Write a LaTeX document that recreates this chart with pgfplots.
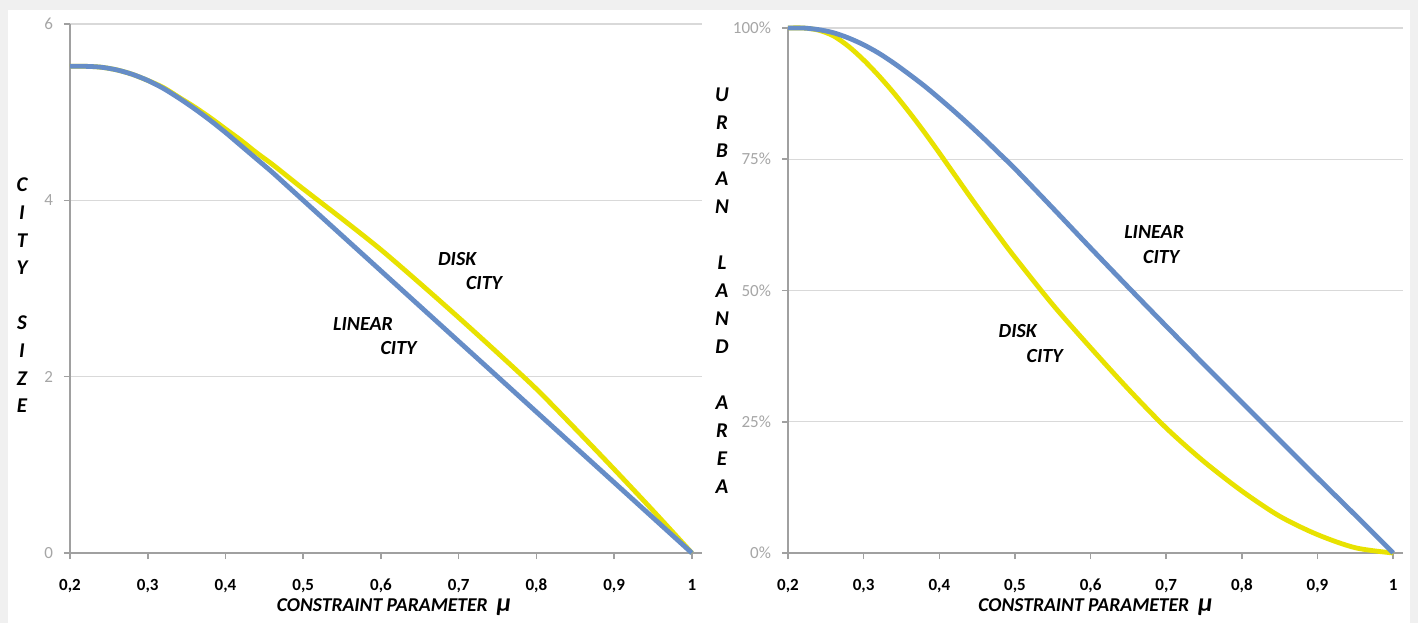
\documentclass[border=0pt]{standalone}
\usepackage{fontspec}
\setmainfont{Carlito}
\usepackage{pgfplots}
\pgfplotsset{compat=1.18}
\definecolor{lin}{RGB}{102,141,199}
\definecolor{disk}{RGB}{232,226,0}
\definecolor{gridc}{RGB}{217,217,217}
\definecolor{axc}{RGB}{160,160,160}
\definecolor{tickc}{RGB}{166,166,166}
\pgfplotsset{
 mystyle/.style={
  scale only axis,
  axis x line*=bottom, axis y line*=left,
  axis line style={-, axc, line width=0.8pt},
  major tick style={axc, line width=0.8pt},
  major tick length=3pt,
  tick align=outside,
  ymajorgrids, grid style={gridc, line width=0.6pt},
  xmin=0.2, xmax=1.013,
  xtick={0.2,0.3,0.4,0.5,0.6,0.7,0.8,0.9,1},
  xticklabels={{0,2},{0,3},{0,4},{0,5},{0,6},{0,7},{0,8},{0,9},1},
  xticklabel style={font=\fontsize{8.5}{10}\selectfont\bfseries, text=black, yshift=-6.5pt},
  yticklabel style={font=\fontsize{8.5}{10}\selectfont, text=tickc, xshift=-2pt},
  xlabel={CONSTRAINT PARAMETER\ \ {\fontsize{13}{13}\selectfont μ}},
  xlabel style={font=\fontsize{9.8}{12}\selectfont\bfseries\itshape, at={(axis description cs:0.5,0)}, anchor=center, yshift=-27pt},
  clip=false,
 },
}
\tikzset{ann/.style={anchor=west, inner sep=0pt, font=\fontsize{10}{12}\selectfont\bfseries\itshape},
  curve/.style={line width=2.4pt, line join=round, smooth, tension=0.5}}
\pgfplotstableread{
x y
0.20 5.52
0.22 5.52
0.24 5.51
0.26 5.48
0.28 5.43
0.30 5.36
0.32 5.27
0.34 5.16
0.36 5.04
0.38 4.91
0.40 4.77
0.42 4.62
0.44 4.47
0.46 4.32
0.48 4.16
0.50 4.00
0.55 3.60
0.60 3.20
0.65 2.80
0.70 2.40
0.75 2.00
0.80 1.60
0.85 1.20
0.90 0.80
0.95 0.40
1.00 0.00
}\linsize
\pgfplotstableread{
x y
0.20 5.52
0.22 5.52
0.24 5.51
0.26 5.48
0.28 5.43
0.30 5.36
0.32 5.28
0.34 5.17
0.36 5.06
0.38 4.94
0.40 4.81
0.42 4.68
0.44 4.54
0.46 4.41
0.48 4.27
0.50 4.13
0.55 3.79
0.60 3.44
0.65 3.06
0.70 2.67
0.75 2.27
0.80 1.86
0.85 1.41
0.90 0.95
0.95 0.48
1.00 0.00
}\disksize
\pgfplotstableread{
x y
0.20 100
0.22 100
0.24 99.7
0.26 99.1
0.28 98.1
0.30 96.8
0.32 95.2
0.34 93.3
0.36 91.2
0.38 89.0
0.40 86.6
0.42 84.1
0.44 81.5
0.46 78.8
0.48 76.0
0.50 73.2
0.55 65.7
0.60 58.1
0.65 50.6
0.70 43.2
0.75 35.9
0.80 28.7
0.85 21.5
0.90 14.3
0.95 7.2
1.00 0
}\linarea
\pgfplotstableread{
x y
0.20 100
0.22 100
0.24 99.6
0.26 98.5
0.28 96.5
0.30 93.9
0.32 90.9
0.34 87.6
0.36 84.0
0.38 80.2
0.40 76.2
0.42 72.1
0.44 68.0
0.46 64.0
0.48 60.1
0.50 56.3
0.55 47.3
0.60 39.1
0.65 31.2
0.70 23.8
0.75 17.4
0.80 11.8
0.85 7.0
0.90 3.5
0.95 1.0
1.00 0
}\diskarea
\begin{document}
\begin{tikzpicture}
\useasboundingbox (0,0) rectangle (709pt,311.5pt);
\fill[gray!12] (0,0) rectangle (709pt,311.5pt);
\fill[white] (4pt,0) rectangle (705pt,306.5pt);
\begin{axis}[mystyle, at={(35pt,35pt)}, anchor=south west,
  width=316pt, height=264.5pt,
  ymin=0, ymax=6, ytick={0,2,4,6}, yticklabels={0,2,4,6},
  xlabel style={xshift=4pt}]
\addplot[disk, curve] table[x=x,y=y] {\disksize};
\addplot[lin, curve] table[x=x,y=y] {\linsize};
\node[ann] at (axis cs:0.673,3.34) {DISK};
\node[ann] at (axis cs:0.709,3.06) {CITY};
\node[ann] at (axis cs:0.538,2.60) {LINEAR};
\node[ann] at (axis cs:0.599,2.32) {CITY};
\node[align=center, font=\fontsize{10.5}{13.8}\selectfont\bfseries\itshape] at (axis description cs:0,0.487) [xshift=-24pt] {C\\I\\T\\Y\\\mbox{}\\S\\I\\Z\\E};
\end{axis}
\begin{axis}[mystyle, at={(394pt,35pt)}, anchor=south west,
  width=307.5pt, height=262.5pt,
  ymin=0, ymax=100, ytick={0,25,50,75,100}, yticklabels={0\%,25\%,50\%,75\%,100\%}]
\addplot[disk, curve] table[x=x,y=y] {\diskarea};
\addplot[lin, curve] table[x=x,y=y] {\linarea};
\node[ann] at (axis cs:0.644,61.1) {LINEAR};
\node[ann] at (axis cs:0.669,56.4) {CITY};
\node[ann] at (axis cs:0.478,42.2) {DISK};
\node[ann] at (axis cs:0.515,37.6) {CITY};
\node[align=center, font=\fontsize{10.5}{14}\selectfont\bfseries\itshape] at (axis description cs:0,0.499) [xshift=-33pt] {U\\R\\B\\A\\N\\\mbox{}\\L\\A\\N\\D\\\mbox{}\\A\\R\\E\\A};
\end{axis}
\end{tikzpicture}
\end{document}
